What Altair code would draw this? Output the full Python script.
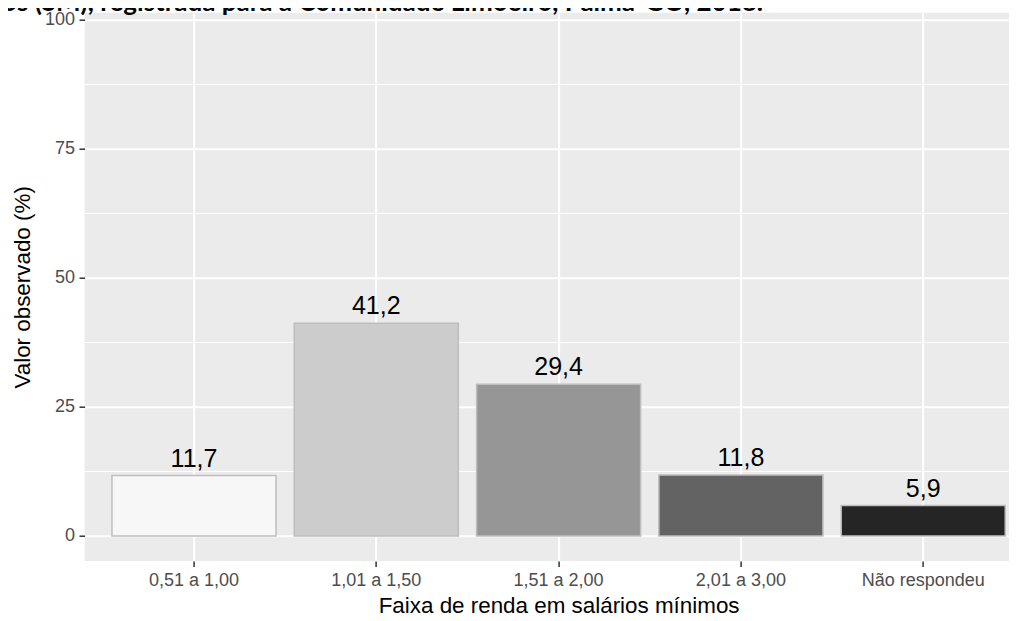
import altair as alt
import pandas as pd

categories = ["0,51 a 1,00", "1,01 a 1,50", "1,51 a 2,00", "2,01 a 3,00", "Não respondeu"]
values = [11.7, 41.2, 29.4, 11.8, 5.9]
labels = ["11,7", "41,2", "29,4", "11,8", "5,9"]
fills = ["#F7F7F7", "#CCCCCC", "#969696", "#636363", "#252525"]
y_ticks = [0, 25, 50, 75, 100]
y_minor = [12.5, 37.5, 62.5, 87.5]
title_text = ["os (SM), registrada para a Comunidade Limoeiro, Palma-GO, 2018."]

df = pd.DataFrame({"faixa": categories, "valor": values, "rotulo": labels})
minor_df = pd.DataFrame({"m": y_minor})
title_df = pd.DataFrame({"t": title_text})

FONT = "Liberation Sans"
PW = 924.4
PH = 548.3

x_enc = alt.X(
    "faixa:N",
    sort=categories,
    scale=alt.Scale(range=[0, 948], paddingInner=0.1, paddingOuter=0.15, round=False),
    axis=alt.Axis(
        title="Faixa de renda em salários mínimos",
        labelAngle=0,
        bandPosition=0.5,
        grid=True,
        gridColor="white",
        gridWidth=2,
        domain=False,
        tickColor="#333333",
        tickSize=5.6,
        tickWidth=1.5,
        labelFontSize=18,
        labelColor="#4D4D4D",
        labelFont=FONT,
        labelPadding=4.5,
        titleFont=FONT,
        titleFontSize=22.4,
        titleFontWeight="normal",
        titleColor="black",
        titlePadding=5,
    ),
)

y_scale = alt.Scale(domain=[-4.85, 101.4], nice=False, zero=False)

bars = alt.Chart(df).mark_bar(stroke="#BEBEBE", strokeWidth=1.5).encode(
    x=x_enc,
    y=alt.Y(
        "valor:Q",
        scale=y_scale,
        axis=alt.Axis(
            title="Valor observado (%)",
            values=y_ticks,
            grid=True,
            gridColor="white",
            gridWidth=2,
            domain=False,
            tickColor="#333333",
            tickSize=5.6,
            tickWidth=1.5,
            labelFontSize=18,
            labelColor="#4D4D4D",
            labelFont=FONT,
            labelPadding=4.5,
            titleFont=FONT,
            titleFontSize=22.4,
            titleFontWeight="normal",
            titleColor="black",
            titlePadding=10,
        ),
    ),
    y2=alt.datum(0),
    fill=alt.Fill("faixa:N", sort=categories,
                  scale=alt.Scale(domain=categories, range=fills), legend=None),
)

text = alt.Chart(df).mark_text(
    baseline="alphabetic", dy=-9, fontSize=25, font=FONT, color="black"
).encode(
    x=alt.X("faixa:N", sort=categories),
    y=alt.Y("valor:Q"),
    text="rotulo:N",
)

minor = alt.Chart(minor_df).mark_rule(color="white", strokeWidth=1).encode(
    y=alt.Y("m:Q", scale=y_scale),
)

title = alt.Chart(title_df).mark_text(
    align="right", baseline="alphabetic", font="Lato", fontSize=26,
    fontWeight="bold", color="black",
).encode(
    x=alt.value(678.4),
    y=alt.value(-1.5),
    text="t:N",
)

chart = alt.layer(minor, bars, text, title).properties(
    width=PW,
    height=PH,
    autosize=alt.AutoSizeParams(type="none"),
    padding={"left": 76.6, "top": 4.7, "right": 0, "bottom": 60},
).configure(background="white").configure_view(fill="#EBEBEB", stroke=None)

chart.save("out.html", embed_options={"renderer": "svg", "actions": False})
